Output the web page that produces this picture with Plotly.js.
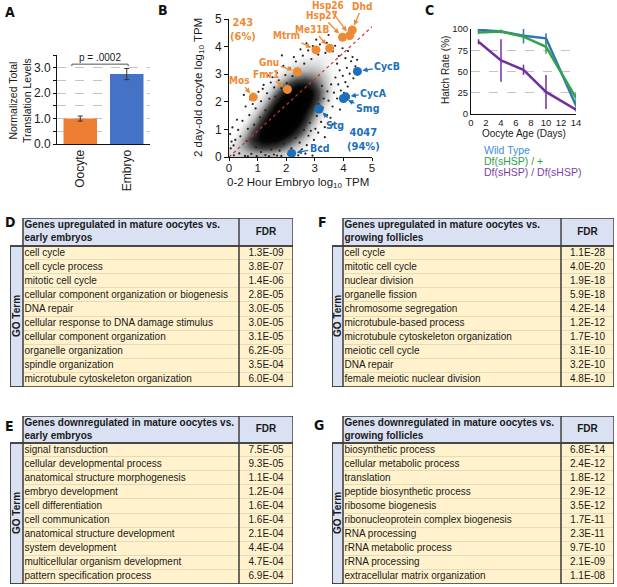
<!DOCTYPE html>
<html><head><meta charset="utf-8">
<script src="https://cdn.plot.ly/plotly-3.0.1.min.js"></script>
<style>html,body{margin:0;padding:0;background:#fff}#chart{width:617px;height:587px}</style>
</head><body><div id="chart"></div>
<script>
// ================= DATA =================
// Panel A
const aCategories = ['Oocyte', 'Embryo'];
const aValues = [1.0, 2.75];
const aErrors = [0.1, 0.22];
const aColors = ['#ed7d31', '#4472c4'];
const aPText = 'p = .0002';

// Panel B - highlighted genes
const bOrangeGenes = ['Mos', 'Fmr1', 'Gnu', 'Mtrm', 'Me31B', 'Hsp27', 'Hsp26', 'Dhd'];
const bOrangeX = [0.85, 2.04, 2.39, 3.04, 3.52, 3.97, 4.22, 4.31];
const bOrangeY = [2.17, 2.45, 3.09, 3.88, 3.94, 4.34, 4.40, 4.60];
const bBlueGenes = ['CycB', 'CycA', 'Smg', 'Stg', 'Bcd'];
const bBlueX = [4.49, 4.08, 4.00, 3.15, 2.19];
const bBlueY = [3.10, 2.18, 2.12, 1.74, 0.13];
const bUpCount = '243<br>(6%)';
const bDownCount = '4047<br>(94%)';
// density of the gene cloud, rows y = 0.125 .. 4.875, cols x = 0.125 .. 4.875 (step 0.25)
const bDensity = [
  [0.2,0.25,0.3,0.35,0.35,0.35,0.3,0.25,0.2,0.12,0.05,0,0,0,0,0,0,0,0,0],
  [0.15,0.3,0.45,0.6,0.7,0.7,0.65,0.55,0.4,0.25,0.12,0.04,0,0,0,0,0,0,0,0],
  [0.08,0.25,0.5,0.75,0.9,0.9,0.9,0.8,0.65,0.45,0.25,0.1,0.03,0,0,0,0,0,0,0],
  [0.04,0.15,0.35,0.65,0.9,1,1,1,0.9,0.7,0.45,0.2,0.06,0,0,0,0,0,0,0],
  [0.02,0.08,0.25,0.5,0.8,1,1,1,1,0.85,0.6,0.3,0.1,0.03,0,0,0,0,0,0],
  [0,0.04,0.12,0.35,0.65,0.9,1,1,1,0.95,0.75,0.45,0.18,0.05,0,0,0,0,0,0],
  [0,0.02,0.06,0.2,0.45,0.75,0.95,1,1,1,0.85,0.6,0.3,0.1,0.03,0,0,0,0,0],
  [0,0,0.03,0.1,0.28,0.55,0.85,1,1,1,0.95,0.75,0.45,0.18,0.06,0,0,0,0,0],
  [0,0,0,0.05,0.15,0.35,0.65,0.9,1,1,1,0.85,0.6,0.3,0.1,0.03,0,0,0,0],
  [0,0,0,0.03,0.08,0.2,0.45,0.7,0.9,0.95,0.95,0.85,0.6,0.35,0.12,0.04,0,0,0,0],
  [0,0,0,0,0.04,0.1,0.25,0.45,0.65,0.8,0.8,0.7,0.5,0.3,0.12,0.04,0,0,0,0],
  [0,0,0,0,0,0.05,0.12,0.25,0.4,0.5,0.55,0.5,0.4,0.25,0.1,0.04,0,0,0,0],
  [0,0,0,0,0,0,0.05,0.12,0.2,0.3,0.32,0.32,0.28,0.18,0.08,0.03,0,0,0,0],
  [0,0,0,0,0,0,0,0.05,0.1,0.15,0.2,0.2,0.18,0.12,0.06,0.03,0,0,0,0],
  [0,0,0,0,0,0,0,0,0.04,0.07,0.1,0.12,0.12,0.1,0.06,0.04,0,0,0,0],
  [0,0,0,0,0,0,0,0,0,0,0.04,0.05,0.06,0.06,0.05,0.04,0.02,0,0,0],
  [0,0,0,0,0,0,0,0,0,0,0,0,0.02,0.03,0.02,0,0,0,0,0],
  [0,0,0,0,0,0,0,0,0,0,0,0,0,0,0,0,0,0,0,0],
  [0,0,0,0,0,0,0,0,0,0,0,0,0,0,0,0,0,0,0,0],
  [0,0,0,0,0,0,0,0,0,0,0,0,0,0,0,0,0,0,0,0]
];
// individual sparse genes around the cloud
const bSpeckX = [0.32,0.47,0.66,0.71,0.88,0.93,1.08,1.12,1.27,1.33,1.41,1.58,1.62,1.74,1.83,1.97,2.02,2.13,2.22,2.34,2.41,2.58,2.63,2.77,2.88,2.93,3.12,3.18,3.37,3.42,3.63,3.71,3.84,3.97,4.07,4.16,0.22,0.12,0.58,0.74,1.03,1.21,1.52,1.9,2.5,
  1.12,1.48,1.77,1.93,2.18,2.33,2.47,2.62,2.78,2.83,3.02,3.07,3.22,3.28,3.43,3.48,3.62,3.67,3.78,3.82,3.91,3.98,4.07,4.12,4.22,4.27,3.57,3.44,3.72,3.87,3.31,3.13,4.32,4.42,2.97,3.12,2.72,3.35,3.55,3.95,4.15,
  0.17,0.36,0.56,0.78,0.97,1.27,1.57,1.83,2.07,2.42,2.67,2.92,3.21,0.06,0.09,0.04,0.16,1.4,0.66,
  0.4,0.28,0.83,1.18,1.46,1.68,2.27,2.71,3.05,0.95,1.68,2.25,2.55,3.35,3.62,3.88,4.02,4.35,4.48,3.25,2.95,1.36,0.52,1.85,3.48,3.78,0.62,2.86,1.05];
const bSpeckY = [0.98,1.31,1.02,1.52,1.17,1.76,1.44,2.02,1.69,2.31,2.11,2.52,2.19,2.78,2.49,2.97,2.68,3.21,2.93,3.46,3.18,3.67,3.38,3.86,3.55,4.02,3.71,4.08,3.77,4.14,3.83,4.03,3.66,3.94,3.58,3.84,0.62,1.07,1.83,2.09,2.36,2.61,2.89,3.3,3.9,
  0.18,0.27,0.23,0.48,0.31,0.69,0.52,0.98,0.77,1.24,1.02,1.49,1.27,1.78,1.52,2.04,1.83,2.33,2.12,2.63,2.41,2.94,2.71,3.23,3.02,3.47,2.63,2.38,2.88,3.14,2.12,1.92,3.62,3.28,0.62,0.88,0.43,1.08,1.42,2.05,2.55,
  0.06,0.13,0.04,0.11,0.03,0.07,0.09,0.04,0.1,0.06,0.12,0.05,0.38,0.31,0.56,0.83,0.42,0.02,0.02,
  0.75,1.35,1.92,2.47,2.7,3.05,3.62,4.12,4.25,0.35,0.05,0.15,0.28,0.72,1.18,1.72,2.32,2.85,3.52,2.58,2.05,2.95,2.25,3.68,4.42,3.38,0.58,0.95,0.52];

// Panel C
const cDays = [1, 4, 7, 10, 14];
const cSeriesNames = ['Wild Type', 'Df(sHSP) / +', 'Df(sHSP) / Df(sHSP)'];
const cWild = [99, 97, 92, 89, 10];
const cWildErr = [2, 2, 9, 6, 4];
const cHet = [96, 97, 91, 79, 19];
const cHetErr = [2, 2, 3, 8, 7];
const cHom = [85, 63, 52, 26, 5];
const cHomErr = [3, 25, 6, 20, 2];

// Tables
const dHeader = 'Genes upregulated in mature oocytes vs.<br>early embryos';
const dTerms = ['cell cycle','cell cycle process','mitotic cell cycle','cellular component organization or biogenesis','DNA repair','cellular response to DNA damage stimulus','cellular component organization','organelle organization','spindle organization','microtubule cytoskeleton organization'];
const dFdr = ['1.3E-09','3.8E-07','1.4E-06','2.8E-05','3.0E-05','3.0E-05','3.1E-05','6.2E-05','3.5E-04','6.0E-04'];
const eHeader = 'Genes downregulated in mature oocytes vs.<br>early embryos';
const eTerms = ['signal transduction','cellular developmental process','anatomical structure morphogenesis','embryo development','cell differentiation','cell communication','anatomical structure development','system development','multicellular organism development','pattern specification process'];
const eFdr = ['7.5E-05','9.3E-05','1.1E-04','1.2E-04','1.6E-04','1.6E-04','2.1E-04','4.4E-04','4.7E-04','6.9E-04'];
const fHeader = 'Genes upregulated in mature oocytes vs.<br>growing follicles';
const fTerms = ['cell cycle','mitotic cell cycle','nuclear division','organelle fission','chromosome segregation','microtubule-based process','microtubule cytoskeleton organization','meiotic cell cycle','DNA repair','female meiotic nuclear division'];
const fFdr = ['1.1E-28','4.0E-20','1.9E-18','5.9E-18','4.2E-14','1.2E-12','1.7E-10','3.1E-10','3.2E-10','4.8E-10'];
const gHeader = 'Genes downregulated in mature oocytes vs.<br>growing follicles';
const gTerms = ['biosynthetic process','cellular metabolic process','translation','peptide biosynthetic process','ribosome biogenesis','ribonucleoprotein complex biogenesis','RNA processing','rRNA metabolic process','rRNA processing','extracellular matrix organization'];
const gFdr = ['6.8E-14','2.4E-12','1.8E-12','2.9E-12','3.5E-12','1.7E-11','2.3E-11','9.7E-10','2.1E-09','1.1E-08'];

// ================= BUILD =================
const W = 617, H = 587;
const px = v => v / W;
const py = v => 1 - v / H;
const FONT = 'Liberation Sans, Arial, sans-serif';
const NARROW = 'Liberation Sans Narrow, DejaVu Sans Condensed, Liberation Sans, sans-serif';
const TXT = '#1a1a1a';

const traces = [];
const shapes = [];
const annotations = [];
function paperText(x, y, text, font, extra) {
  annotations.push(Object.assign({xref: 'paper', yref: 'paper', x: px(x), y: py(y), xanchor: 'center',
    yanchor: 'middle', showarrow: false, text: text, font: font}, extra || {}));
}

// ---- Panel A ----
traces.push({
  type: 'bar', x: aCategories.map((c, i) => i), y: aValues, width: 0.72,
  marker: {color: aColors},
  error_y: {type: 'data', array: aErrors, color: '#333', thickness: 1, width: 2.5},
  xaxis: 'x', yaxis: 'y', hoverinfo: 'skip'
});
shapes.push({type: 'path', xref: 'x', yref: 'y',
  path: 'M -0.18,3.06 L -0.18,3.14 L 1.03,3.14 L 1.03,3.06',
  line: {color: '#555', width: 1}});
annotations.push({xref: 'x', yref: 'y', x: 0.42, y: 3.12, yanchor: 'bottom', showarrow: false,
  text: aPText, font: {family: FONT, size: 10, color: TXT}});
paperText(20, 101, 'Normalized Total<br>Translation Levels', {family: FONT, size: 10.5, color: TXT}, {textangle: -90});

// ---- Panel B ----
traces.push({
  type: 'heatmap', z: bDensity, x0: 0.125, dx: 0.25, y0: 0.125, dy: 0.25,
  zmin: 0, zmax: 1, zsmooth: 'best', showscale: false, hoverinfo: 'skip',
  colorscale: [[0, 'rgba(255,255,255,0)'], [0.1, 'rgba(60,60,60,0.05)'], [0.3, 'rgba(40,40,40,0.3)'],
               [0.6, 'rgba(20,20,20,0.8)'], [0.85, 'rgba(5,5,5,1)'], [1, 'rgba(0,0,0,1)']],
  xaxis: 'x2', yaxis: 'y2'
});
traces.push({
  type: 'scatter', mode: 'markers', x: bSpeckX, y: bSpeckY,
  marker: {color: '#222', size: 2.2}, xaxis: 'x2', yaxis: 'y2', hoverinfo: 'skip'
});
traces.push({
  type: 'scatter', mode: 'lines', x: [0, 5.3], y: [0, 5],
  line: {color: '#c0392b', width: 1.2, dash: 'dot'}, xaxis: 'x2', yaxis: 'y2', hoverinfo: 'skip'
});
const bOrange = '#ef8a34', bBlue = '#1c6fbf';
traces.push({type: 'scatter', mode: 'markers', x: bOrangeX, y: bOrangeY,
  marker: {color: bOrange, size: 9}, xaxis: 'x2', yaxis: 'y2', hoverinfo: 'skip'});
traces.push({type: 'scatter', mode: 'markers', x: bBlueX, y: bBlueY,
  marker: {color: bBlue, size: 9}, xaxis: 'x2', yaxis: 'y2', hoverinfo: 'skip'});
// label offsets (pixels)
const oOff = [[-14,-17],[-21,-15],[-28,-9],[-29,-14],[-17,-19],[-21,-22],[-22,-30],[10,-24]];
const bOff = [[30,-5],[28,-4],[24,10],[16,16],[28,-5]];
bOrangeGenes.forEach((g, i) => annotations.push({xref: 'x2', yref: 'y2', x: bOrangeX[i], y: bOrangeY[i],
  ax: oOff[i][0], ay: oOff[i][1], text: '<b>' + g + '</b>', showarrow: true, arrowhead: 2, arrowsize: 0.8,
  arrowwidth: 1.3, arrowcolor: bOrange, standoff: 5, font: {family: NARROW, size: 10, color: bOrange}}));
bBlueGenes.forEach((g, i) => annotations.push({xref: 'x2', yref: 'y2', x: bBlueX[i], y: bBlueY[i],
  ax: bOff[i][0], ay: bOff[i][1], text: '<b>' + g + '</b>', showarrow: true, arrowhead: 2, arrowsize: 0.8,
  arrowwidth: 1.3, arrowcolor: bBlue, standoff: 5, font: {family: NARROW, size: 10.5, color: bBlue}}));
paperText(243, 29, '<b>' + bUpCount + '</b>', {family: NARROW, size: 11, color: bOrange});
paperText(363, 140, '<b>' + bDownCount + '</b>', {family: NARROW, size: 11, color: bBlue});
paperText(298, 183, '0-2 Hour Embryo log<sub>10</sub> TPM', {family: FONT, size: 11.5, color: TXT});
paperText(199, 88, '2 day-old oocyte log<sub>10</sub> TPM', {family: FONT, size: 11.5, color: TXT}, {textangle: -90});

// ---- Panel C ----
const cColors = ['#2f75b5', '#33a24a', '#7030a0'];
const cLegendColors = ['#3b8fd4', '#2ea048', '#7b3fa8'];
[[cWild, cWildErr], [cHet, cHetErr], [cHom, cHomErr]].forEach((s, i) => traces.push({
  type: 'scatter', mode: 'lines', x: cDays, y: s[0], name: cSeriesNames[i],
  line: {color: cColors[i], width: 2.5},
  error_y: {type: 'data', array: s[1], color: cColors[i], thickness: 1.5, width: 0},
  xaxis: 'x3', yaxis: 'y3', hoverinfo: 'skip'
}));
cSeriesNames.forEach((n, i) => paperText(482, 150 + 11 * i, n, {family: FONT, size: 10.5, color: cLegendColors[i]},
  {xanchor: 'left'}));
paperText(524, 134, 'Oocyte Age (Days)', {family: FONT, size: 10, color: TXT});
paperText(446, 70, 'Hatch Rate (%)', {family: FONT, size: 10, color: TXT}, {textangle: -90});

// ---- Panel letters ----
[['A', 3, 12], ['B', 156, 10], ['C', 423, 10], ['D', 3, 222], ['E', 3, 426], ['F', 316, 222], ['G', 312, 425]]
  .forEach(l => paperText(l[1], l[2], '<b>' + l[0] + '</b>', {family: NARROW, size: 14, color: '#111'}, {xanchor: 'left'}));

// ---- Tables ----
const tableDefs = [
  {ax: 4, header: dHeader, terms: dTerms, fdr: dFdr, left: 10, goW: 13, termW: 216, fdrW: 54, top: 218, hh: 28},
  {ax: 5, header: eHeader, terms: eTerms, fdr: eFdr, left: 10, goW: 13, termW: 216, fdrW: 54, top: 416, hh: 27},
  {ax: 6, header: fHeader, terms: fTerms, fdr: fFdr, left: 332, goW: 11, termW: 218, fdrW: 53, top: 218, hh: 28},
  {ax: 7, header: gHeader, terms: gTerms, fdr: gFdr, left: 332, goW: 11, termW: 218, fdrW: 53, top: 416, hh: 27}
];
const rowH = 14.1;
const tableAxes = {};
tableDefs.forEach(t => {
  const xa = 'x' + t.ax, ya = 'y' + t.ax;
  const Wt = t.termW + t.fdrW;
  const n = t.terms.length;
  const hu = t.hh / rowH;
  tableAxes['xaxis' + t.ax] = {domain: [px(t.left), px(t.left + t.goW + Wt)], range: [-t.goW, Wt],
    visible: false, fixedrange: true, anchor: ya};
  tableAxes['yaxis' + t.ax] = {domain: [py(t.top + t.hh + n * rowH), py(t.top)], range: [n, -hu],
    visible: false, fixedrange: true, anchor: xa};
  const yEdges = [-hu].concat(t.terms.map((_, i) => i)).concat([n]);
  const z = [[1, 1]].concat(t.terms.map(() => [0, 0]));
  shapes.push({type: 'rect', xref: xa, yref: ya, x0: 0, x1: Wt, y0: 0, y1: n, layer: 'below',
    fillcolor: '#e4dbbd', line: {width: 0}});
  traces.push({type: 'heatmap', z: z, x: [0, t.termW, Wt], y: yEdges, xgap: 1, ygap: 1,
    zmin: 0, zmax: 1, showscale: false, colorscale: [[0, '#fff2cc'], [1, '#d9e1f2']],
    xaxis: xa, yaxis: ya, hoverinfo: 'skip'});
  traces.push({type: 'scatter', mode: 'text', x: t.terms.map(() => 1.5), y: t.terms.map((_, i) => i + 0.5),
    text: t.terms, textposition: 'middle right', textfont: {family: FONT, size: 10, color: TXT},
    xaxis: xa, yaxis: ya, hoverinfo: 'skip'});
  traces.push({type: 'scatter', mode: 'text', x: t.fdr.map(() => t.termW + t.fdrW / 2), y: t.fdr.map((_, i) => i + 0.5),
    text: t.fdr, textposition: 'middle center', textfont: {family: FONT, size: 10, color: TXT},
    xaxis: xa, yaxis: ya, hoverinfo: 'skip'});
  traces.push({type: 'scatter', mode: 'text', x: [1.5, t.termW + t.fdrW / 2], y: [-hu / 2, -hu / 2],
    text: ['<b>' + t.header + '</b>', '<b>FDR</b>'], textposition: ['middle right', 'middle center'],
    textfont: {family: FONT, size: 10, color: TXT}, xaxis: xa, yaxis: ya, hoverinfo: 'skip'});
  const dark = {color: '#3c3c3c', width: 1.5};
  shapes.push({type: 'rect', xref: xa, yref: ya, x0: -t.goW, x1: 0, y0: 0, y1: n, fillcolor: '#d9e1f2', line: dark});
  shapes.push({type: 'rect', xref: xa, yref: ya, x0: 0, x1: Wt, y0: -hu, y1: 0, line: dark});
  shapes.push({type: 'rect', xref: xa, yref: ya, x0: -t.goW, x1: Wt, y0: 0, y1: n, line: dark});
  shapes.push({type: 'line', xref: xa, yref: ya, x0: t.termW, x1: t.termW, y0: -hu, y1: n, line: dark});
  annotations.push({xref: xa, yref: ya, x: -t.goW / 2, y: n / 2, xanchor: 'center', yanchor: 'middle',
    showarrow: false, textangle: -90, text: '<b>GO Term</b>', font: {family: FONT, size: 10, color: TXT}});
});

const axLine = {showline: true, linecolor: '#111', linewidth: 1, zeroline: false, fixedrange: true};
const layout = Object.assign({
  width: W, height: H, margin: {l: 0, r: 0, t: 0, b: 0}, showlegend: false,
  paper_bgcolor: '#fff', plot_bgcolor: 'rgba(0,0,0,0)',
  font: {family: FONT, color: TXT},
  xaxis: Object.assign({}, axLine, {domain: [px(57), px(150)], range: [-0.5, 1.5], tickvals: [0, 1],
    ticktext: aCategories, tickangle: -90, ticks: '', tickfont: {size: 12}, showgrid: false, anchor: 'y'}),
  yaxis: Object.assign({}, axLine, {domain: [py(144), py(55)], range: [0, 3.5], tick0: 0, dtick: 1,
    tickformat: '.1f', ticks: 'outside', ticklen: 3, tickcolor: '#111', tickfont: {size: 12},
    showgrid: true, gridcolor: '#c4c4c4', griddash: 'dash',
    minor: {dtick: 0.5, ticks: 'outside', ticklen: 3, tickcolor: '#111', showgrid: true, gridcolor: '#c4c4c4', griddash: 'dash'},
    anchor: 'x'}),
  xaxis2: Object.assign({}, axLine, {domain: [px(229), px(372)], range: [0, 5], dtick: 1,
    ticks: 'outside', ticklen: 3, tickcolor: '#111', tickfont: {size: 11.5}, ticklabelstandoff: -3,
    showgrid: false, anchor: 'y2'}),
  yaxis2: Object.assign({}, axLine, {domain: [py(157), py(19)], range: [0, 5], dtick: 1,
    ticks: 'outside', ticklen: 4, tickcolor: '#111', tickfont: {size: 12}, showgrid: false, anchor: 'x2'}),
  xaxis3: Object.assign({}, axLine, {domain: [px(471), px(576)], range: [0, 14], dtick: 2,
    ticks: '', tickfont: {size: 9.5}, showgrid: false, anchor: 'y3'}),
  yaxis3: Object.assign({}, axLine, {domain: [py(114), py(29)], range: [0, 100], tickvals: [0, 25, 50, 75, 100],
    ticks: '', tickfont: {size: 9.5}, showgrid: true, gridcolor: '#c4c4c4', griddash: 'dash', anchor: 'x3'}),
  shapes: shapes, annotations: annotations
}, tableAxes);

Plotly.newPlot('chart', traces, layout, {staticPlot: true, displayModeBar: false});
</script></body></html>
